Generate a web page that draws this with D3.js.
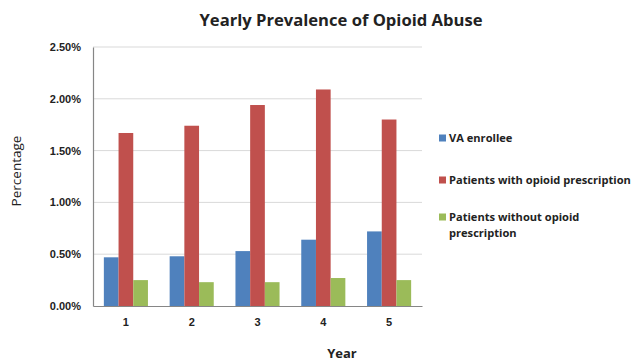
<!DOCTYPE html>
<html>
<head>
<meta charset="utf-8">
<script src="https://cdn.jsdelivr.net/npm/d3@7"></script>
<style>
  html, body { margin: 0; padding: 0; background: #fff; }
  svg { display: block; font-family: "Open Sans", "Liberation Sans", Arial, sans-serif; }
</style>
</head>
<body>
<svg id="chart" width="634" height="364"></svg>
<script>
// Yearly prevalence values (percent)
const years = ["1", "2", "3", "4", "5"];
const seriesNames = ["VA enrollee", "Patients with opioid prescription", "Patients without opioid prescription"];
const vaEnrollee = [0.47, 0.48, 0.53, 0.64, 0.72];
const withPrescription = [1.67, 1.74, 1.94, 2.09, 1.80];
const withoutPrescription = [0.25, 0.23, 0.23, 0.27, 0.25];
const yTicks = [0, 0.5, 1.0, 1.5, 2.0, 2.5];
const colors = ["#4F81BD", "#C0504D", "#9BBB59"];

const seriesValues = [vaEnrollee, withPrescription, withoutPrescription];

const svg = d3.select("#chart");
const margin = { left: 93, right: 212, top: 47, bottom: 58 };
const W = 634, H = 364;

const x = d3.scaleBand().domain(years).range([margin.left, W - margin.right]).paddingInner(0.33).paddingOuter(0.165);
const x1 = d3.scaleBand().domain(d3.range(seriesNames.length)).range([0, x.bandwidth()]);
const y = d3.scaleLinear().domain([0, 2.5]).range([H - margin.bottom, margin.top]);

// gridlines
svg.append("g")
  .selectAll("line")
  .data(yTicks.filter(d => d > 0))
  .join("line")
  .attr("x1", margin.left).attr("x2", W - margin.right)
  .attr("y1", d => y(d)).attr("y2", d => y(d))
  .attr("stroke", "#d9d9d9").attr("stroke-width", 1);

// bars
const groups = svg.append("g").selectAll("g")
  .data(years)
  .join("g")
  .attr("transform", d => `translate(${x(d)},0)`);

groups.selectAll("rect")
  .data((d, i) => seriesValues.map((s, k) => ({ k, v: s[i] })))
  .join("rect")
  .attr("x", d => x1(d.k))
  .attr("width", x1.bandwidth())
  .attr("y", d => y(d.v))
  .attr("height", d => y(0) - y(d.v))
  .attr("fill", d => colors[d.k]);

// y axis
const yAxis = svg.append("g")
  .attr("transform", `translate(${margin.left},0)`)
  .call(d3.axisLeft(y).tickValues(yTicks).tickFormat(d => d.toFixed(2) + "%").tickSize(0).tickPadding(12));
yAxis.select(".domain").attr("stroke", "#868686").attr("stroke-width", 1.2);
yAxis.selectAll("text").attr("font-size", 11).attr("font-weight", "bold").attr("fill", "#222");

// x axis
const xAxis = svg.append("g")
  .attr("transform", `translate(0,${y(0)})`)
  .call(d3.axisBottom(x).tickSize(0).tickPadding(12));
xAxis.select(".domain").attr("stroke", "#868686").attr("stroke-width", 1.2);
xAxis.selectAll("text").attr("font-size", 11).attr("font-weight", "bold").attr("fill", "#222");

// title
svg.append("text")
  .attr("x", 341).attr("y", 26)
  .attr("text-anchor", "middle")
  .attr("font-size", 16.6).attr("font-weight", "bold").attr("fill", "#222")
  .text("Yearly Prevalence of Opioid Abuse");

// axis titles
svg.append("text")
  .attr("transform", "translate(21,171) rotate(-90)")
  .attr("text-anchor", "middle")
  .attr("font-size", 13.5).attr("fill", "#222")
  .text("Percentage");

svg.append("text")
  .attr("x", 342).attr("y", 358)
  .attr("text-anchor", "middle")
  .attr("font-size", 13).attr("font-weight", "bold").attr("fill", "#222")
  .text("Year");

// legend
const legendRows = [
  { lines: ["VA enrollee"], y: 138 },
  { lines: ["Patients with opioid prescription"], y: 180 },
  { lines: ["Patients without opioid", "prescription"], y: 217 }
];
const legend = svg.append("g");
legendRows.forEach((r, i) => {
  legend.append("rect")
    .attr("x", 439).attr("y", r.y - 3.5)
    .attr("width", 7).attr("height", 7)
    .attr("fill", colors[i]);
  const t = legend.append("text")
    .attr("x", 449).attr("y", r.y + 4)
    .attr("font-size", 11.1).attr("font-weight", "bold").attr("fill", "#222");
  r.lines.forEach((ln, j) => {
    t.append("tspan").attr("x", 449).attr("dy", j === 0 ? 0 : 16).text(ln);
  });
});
</script>
</body>
</html>
